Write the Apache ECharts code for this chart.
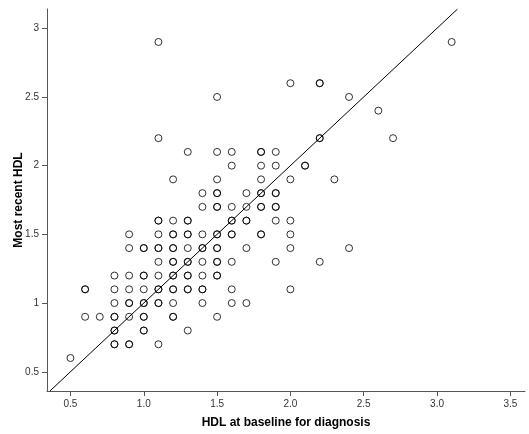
<!DOCTYPE html>
<html>
<head>
<meta charset="utf-8">
<script src="https://cdn.jsdelivr.net/npm/echarts@6/dist/echarts.min.js"></script>
<style>
html,body{margin:0;padding:0;background:#fff;}
#chart{width:529px;height:434px;}
</style>
</head>
<body>
<div id="chart"></div>
<script>
// HDL at baseline (x) and most recent HDL (y); repeated pairs = overlapping observations
const baselineHDL = [
  0.5,
  0.8,0.8,0.9,0.9,1.1,
  0.8,0.8,1.0,1.0,1.3,
  0.6,0.7,0.8,0.8,0.9,1.0,1.0,1.2,1.2,1.5,
  0.8,0.9,0.9,1.0,1.0,1.1,1.1,1.2,1.4,1.6,1.7,
  0.6,0.6,0.8,0.9,1.0,1.1,1.1,1.2,1.2,1.3,1.3,1.4,1.4,1.6,2.0,
  0.8,0.9,1.0,1.0,1.1,1.2,1.2,1.3,1.3,1.4,1.5,1.5,
  1.1,1.2,1.2,1.3,1.3,1.4,1.5,1.5,1.6,1.9,2.2,
  0.9,1.0,1.0,1.1,1.1,1.2,1.2,1.3,1.4,1.4,1.5,1.5,1.7,2.0,2.4,
  0.9,1.1,1.2,1.2,1.3,1.3,1.4,1.5,1.5,1.6,1.6,1.8,1.8,2.0,
  1.1,1.1,1.2,1.3,1.3,1.6,1.6,1.7,1.7,1.9,2.0,
  1.4,1.5,1.5,1.6,1.7,1.8,1.8,1.9,1.9,
  1.4,1.5,1.5,1.7,1.8,1.8,1.9,1.9,
  1.2,1.5,1.8,2.0,2.3,
  1.6,1.8,1.9,2.1,2.1,
  1.3,1.5,1.6,1.8,1.8,1.9,
  1.1,2.2,2.2,2.7,
  2.6,
  1.5,2.4,
  2.0,2.2,2.2,
  1.1,3.1
];
const recentHDL = [
  0.6,
  0.7,0.7,0.7,0.7,0.7,
  0.8,0.8,0.8,0.8,0.8,
  0.9,0.9,0.9,0.9,0.9,0.9,0.9,0.9,0.9,0.9,
  1.0,1.0,1.0,1.0,1.0,1.0,1.0,1.0,1.0,1.0,1.0,
  1.1,1.1,1.1,1.1,1.1,1.1,1.1,1.1,1.1,1.1,1.1,1.1,1.1,1.1,1.1,
  1.2,1.2,1.2,1.2,1.2,1.2,1.2,1.2,1.2,1.2,1.2,1.2,
  1.3,1.3,1.3,1.3,1.3,1.3,1.3,1.3,1.3,1.3,1.3,
  1.4,1.4,1.4,1.4,1.4,1.4,1.4,1.4,1.4,1.4,1.4,1.4,1.4,1.4,1.4,
  1.5,1.5,1.5,1.5,1.5,1.5,1.5,1.5,1.5,1.5,1.5,1.5,1.5,1.5,
  1.6,1.6,1.6,1.6,1.6,1.6,1.6,1.6,1.6,1.6,1.6,
  1.7,1.7,1.7,1.7,1.7,1.7,1.7,1.7,1.7,
  1.8,1.8,1.8,1.8,1.8,1.8,1.8,1.8,
  1.9,1.9,1.9,1.9,1.9,
  2.0,2.0,2.0,2.0,2.0,
  2.1,2.1,2.1,2.1,2.1,2.1,
  2.2,2.2,2.2,2.2,
  2.4,
  2.5,2.5,
  2.6,2.6,2.6,
  2.9,2.9
];
const xTicks = [0.5, 1.0, 1.5, 2.0, 2.5, 3.0, 3.5];
const yTicks = [0.5, 1, 1.5, 2, 2.5, 3];
const identityRange = [0.36, 3.14];

const points = baselineHDL.map((x, i) => [x, recentHDL[i]]);
const chart = echarts.init(document.getElementById('chart'), null, {renderer: 'canvas'});
const font = 'Liberation Sans, Arial, sans-serif';
chart.setOption({
  animation: false,
  backgroundColor: '#fff',
  grid: {left: 47, right: 4, top: 9, bottom: 43, containLabel: false},
  xAxis: {
    type: 'value', min: 0.34, max: 3.6,
    name: 'HDL at baseline for diagnosis', nameLocation: 'middle', nameGap: 26,
    nameMoveOverlap: false,
    nameTextStyle: {fontFamily: font, fontWeight: 'bold', fontSize: 12, color: '#000'},
    axisLine: {show: true, lineStyle: {color: '#555', width: 1}},
    axisTick: {show: true, length: 5, lineStyle: {color: '#555'}, customValues: xTicks},
    axisLabel: {customValues: xTicks, formatter: v => v.toFixed(1), margin: 8,
      fontFamily: font, fontSize: 10, color: '#333'},
    splitLine: {show: false}
  },
  yAxis: {
    type: 'value', min: 0.36, max: 3.14,
    name: 'Most recent HDL', nameLocation: 'middle', nameGap: 22, nameRotate: 90,
    nameMoveOverlap: false,
    nameTextStyle: {fontFamily: font, fontWeight: 'bold', fontSize: 12, color: '#000'},
    axisLine: {show: true, lineStyle: {color: '#555', width: 1}},
    axisTick: {show: true, length: 5, lineStyle: {color: '#555'}, customValues: yTicks},
    axisLabel: {customValues: yTicks, formatter: v => String(v), margin: 8,
      fontFamily: font, fontSize: 10, color: '#333'},
    splitLine: {show: false}
  },
  series: [
    {
      type: 'line',
      data: identityRange.map(v => [v, v]),
      symbol: 'none',
      lineStyle: {color: '#000', width: 1},
      silent: true, z: 3
    },
    {
      type: 'scatter',
      data: points,
      symbol: 'circle',
      symbolSize: 7,
      itemStyle: {color: 'rgba(255,255,255,0)', borderColor: '#000', borderWidth: 1},
      z: 2
    }
  ]
});
</script>
</body>
</html>
